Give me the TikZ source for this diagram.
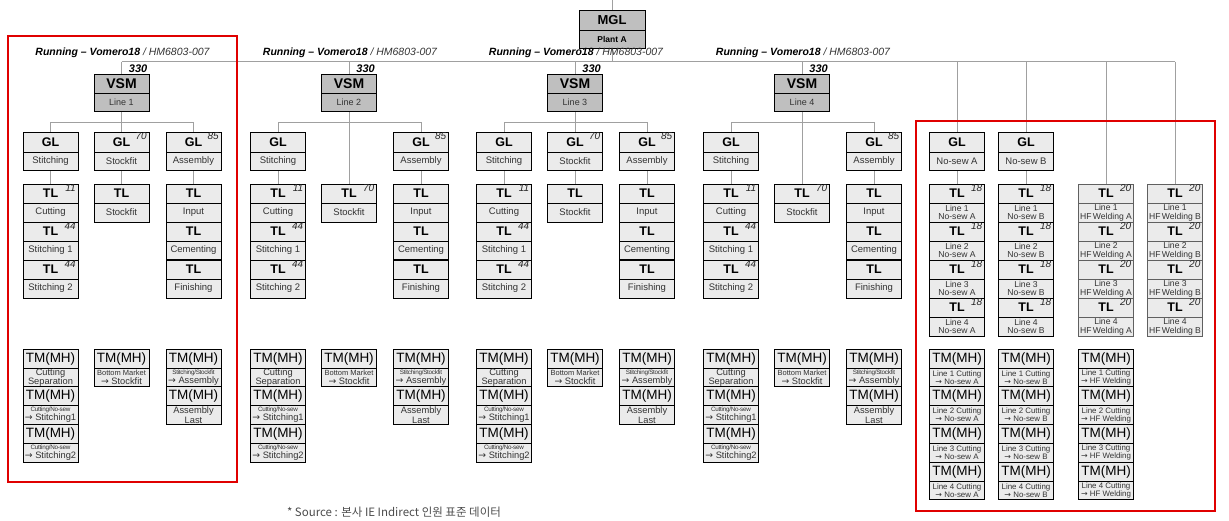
\documentclass[tikz,border=0pt]{standalone}
\usepackage{fontspec}
\setmainfont{Liberation Sans}
\newfontfamily\cjk{Noto Sans CJK KR}
\newfontfamily\arrf{DejaVu Sans}
\newcommand\ar{{\arrf\char"2192}}
\newcommand\fsz[1]{\fontsize{#1}{#1}\selectfont}
\definecolor{boxgray}{HTML}{BFBFBF}
\definecolor{lightbox}{HTML}{EBEBEB}
\definecolor{conngray}{HTML}{A0A0A0}
\definecolor{subtext}{HTML}{333333}
\definecolor{hfborder}{HTML}{606060}
\definecolor{redline}{HTML}{E00000}
\pgfdeclarelayer{bg}
\pgfsetlayers{bg,main}
% #1 name, #2 x centre, #3 top y, #4 style prefix, #5 header, #6 sub text, #7 number
\newcommand\bx[7]{%
  \node[#4hd,anchor=north] (#1h) at ({#2},{#3}) {#5};
  \node[#4sb,anchor=north] (#1) at (#1h.south) {#6};
  \node[num,anchor=north east] at ([xshift=-1.5pt,yshift=0.5pt]#1h.north east) {#7};
}
% #1 id, #2 VSM centre x, #3 1 = GL stockfit present
\newcommand\linegroup[3]{%
  \node[title] (title#1) at ({#2+1},53) {\textbf{Running -- Vomero18}\ \textcolor{subtext}{/ HM6803-007}};
  \bx{vsm#1}{#2}{74}{vsm}{VSM}{Line #1}{}
  \node[n330,anchor=south east] (n330-#1) at ([xshift=-1pt,yshift=0.5pt]vsm#1h.north east) {330};
  \bx{glA#1}{#2-71}{132}{gl}{GL}{Stitching}{}
  \bx{glC#1}{#2+72}{132}{gl}{GL}{Assembly}{85}
  \bx{tlA1-#1}{#2-71}{184}{tl}{TL}{Cutting}{11}
  \bx{tlA2-#1}{#2-71}{222}{tl}{TL}{Stitching 1}{44}
  \bx{tlA3-#1}{#2-71}{260}{tl}{TL}{Stitching 2}{44}
  \bx{tlC1-#1}{#2+72}{184}{tl}{TL}{Input}{}
  \bx{tlC2-#1}{#2+72}{222}{tl}{TL}{Cementing}{}
  \bx{tlC3-#1}{#2+72}{260}{tl}{TL}{Finishing}{}
  \draw[line width=2pt] (tlC3-#1h.north west) -- (tlC3-#1h.north east);
  \ifnum#3=1
    \bx{glB#1}{#2}{132}{gl}{GL}{Stockfit}{70}
    \bx{tlB-#1}{#2}{184}{tl}{TL}{Stockfit}{}
  \else
    \bx{tlB-#1}{#2}{184}{tl}{TL}{Stockfit}{70}
  \fi
  \bx{tmA1-#1}{#2-71}{349}{tm}{TM(MH)}{Cutting\\Separation}{}
  \bx{tmA2-#1}{#2-71}{386.7}{tm}{TM(MH)}{{\fsz{6.3}\addfontfeatures{LetterSpace=-4}Cutting/No-sew}\\[-0.5pt]\ar{} Stitching1}{}
  \bx{tmA3-#1}{#2-71}{424.4}{tm}{TM(MH)}{{\fsz{6.3}\addfontfeatures{LetterSpace=-4}Cutting/No-sew}\\[-0.5pt]\ar{} Stitching2}{}
  \bx{tmB-#1}{#2}{349}{tm}{TM(MH)}{{\fsz{7.5}Bottom Market}\\\ar{} Stockfit}{}
  \bx{tmC1-#1}{#2+72}{349}{tm}{TM(MH)}{{\fsz{6.3}\addfontfeatures{LetterSpace=-4}Stitching/Stockfit}\\[-0.5pt]\ar{} Assembly}{}
  \bx{tmC2-#1}{#2+72}{386.7}{tm}{TM(MH)}{Assembly\\Last}{}
  \coordinate (hb#1) at (#2,122);
  \begin{pgfonlayer}{bg}
    \draw[conn] (vsm#1h.north) -- (vsm#1h.north |- bus);
    \draw[conn] (glA#1h.north) -- (glA#1h.north |- hb#1) -- (glC#1h.north |- hb#1) -- (glC#1h.north);
    \ifnum#3=1
      \draw[conn] (vsm#1.south) -- (glB#1h.north);
      \draw[conn] (glB#1.south) -- (tlB-#1h.north);
    \else
      \draw[conn] (vsm#1.south) -- (tlB-#1h.north);
    \fi
    \draw[conn] (vsm#1.south) -- (hb#1);
    \draw[conn] (glA#1.south) -- (tlA1-#1h.north);
    \draw[conn] (glC#1.south) -- (tlC1-#1h.north);
  \end{pgfonlayer}
}
\begin{document}
\begin{tikzpicture}[x=1pt,y=-1pt,
  base/.style={draw=black,line width=1pt,inner sep=0pt,outer sep=0pt,minimum width=55pt,align=center},
  mglhd/.style={base,fill=boxgray,minimum width=66pt,minimum height=20pt,font=\bfseries\fsz{13}},
  mglsb/.style={base,fill=boxgray,minimum width=66pt,minimum height=18pt,font=\bfseries\fsz{8.5}},
  vsmhd/.style={base,fill=boxgray,minimum height=19.5pt,font=\bfseries\fsz{14}},
  vsmsb/.style={base,fill=boxgray,minimum height=18pt,font=\fsz{9},text=subtext},
  glhd/.style={base,fill=lightbox,minimum height=20pt,font=\bfseries\fsz{12.5}},
  glsb/.style={base,fill=lightbox,minimum height=18pt,font=\fsz{9.5},text=subtext},
  tlhd/.style={base,fill=lightbox,minimum height=19pt,font=\bfseries\fsz{12.5}},
  tlsb/.style={base,fill=lightbox,minimum height=19pt,font=\fsz{9.5},text=subtext},
  tlxhd/.style={tlhd},
  tlxsb/.style={base,fill=lightbox,minimum height=19pt,font=\fsz{8.6},text=subtext},
  hfhd/.style={tlhd,draw=hfborder},
  hfsb/.style={tlxsb,draw=hfborder,font=\fsz{8.6}},
  tmhd/.style={base,fill=lightbox,minimum height=19pt,font=\fsz{13.5}},
  tmsb/.style={base,fill=lightbox,minimum height=18.7pt,font=\fsz{9.3},text=subtext},
  tmxhd/.style={tmhd},
  tmxsb/.style={base,fill=lightbox,minimum height=18.7pt,font=\fsz{7.9},text=subtext},
  num/.style={inner sep=0.5pt,font=\itshape\fsz{10},text=black!85},
  n330/.style={inner sep=0.5pt,font=\bfseries\itshape\fsz{11}},
  title/.style={inner sep=0pt,font=\itshape\fsz{10.5}},
  conn/.style={draw=conngray,line width=1pt},
  redbox/.style={draw=redline,line width=1.1pt},
  footer/.style={inner sep=0pt,font=\cjk\fsz{11.5},text=black!70}]
\useasboundingbox (0,0) rectangle (1229,520);
\coordinate (bus) at (0,61.5);
\coordinate (top) at (612,0);
% red frames
\draw[redbox] (8,36) rectangle (237,482);
\draw[redbox] (916,121) rectangle (1215,511);
% plant
\node[mglhd,anchor=north] (mglh) at (612,10) {MGL};
\node[mglsb,anchor=north] (mgl) at (mglh.south) {Plant A};
% lines
\linegroup{1}{121.5}{1}
\linegroup{2}{349}{0}
\linegroup{3}{575}{1}
\linegroup{4}{802}{0}
% no-sew and HF welding
\bx{gna}{957}{132}{gl}{GL}{No-sew A}{}
\bx{gnb}{1026}{132}{gl}{GL}{No-sew B}{}
\foreach \i in {1,...,4}{
  \bx{tna\i}{957}{184+38*(\i-1)}{tlx}{TL}{Line \i\\No-sew A}{18}
  \bx{tnb\i}{1026}{184+38*(\i-1)}{tlx}{TL}{Line \i\\No-sew B}{18}
  \bx{hfa\i}{1106}{184+38*(\i-1)}{hf}{TL}{Line \i\\HF\,Welding A}{20}
  \bx{hfb\i}{1175}{184+38*(\i-1)}{hf}{TL}{Line \i\\HF\,Welding B}{20}
  \bx{tma\i}{957}{349+37.75*(\i-1)}{tmx}{TM(MH)}{Line \i\ Cutting\\\ar{} No-sew A}{}
  \bx{tmb\i}{1026}{349+37.75*(\i-1)}{tmx}{TM(MH)}{Line \i\ Cutting\\\ar{} No-sew B}{}
  \bx{tmh\i}{1106}{349+37.75*(\i-1)}{tmx}{TM(MH)}{Line \i\ Cutting\\\ar{} HF Welding}{}
}
\begin{pgfonlayer}{bg}
  \draw[conn] (top) -- (mglh.north);
  \draw[conn] (mgl.south) -- (mgl.south |- bus);
  \draw[conn] (vsm1h.north |- bus) -- (hfb1h.north |- bus);
  \draw[conn] (gnah.north |- bus) -- (gnah.north);
  \draw[conn] (gnbh.north |- bus) -- (gnbh.north);
  \draw[conn] (hfa1h.north |- bus) -- (hfa1h.north);
  \draw[conn] (hfb1h.north |- bus) -- (hfb1h.north);
  \draw[conn] (gna.south) -- (tna1h.north);
  \draw[conn] (gnb.south) -- (tnb1h.north);
\end{pgfonlayer}
% footer
\node[footer] (src) at (394,512) {* Source : 본사 IE Indirect 인원 표준 데이터};
\end{tikzpicture}
\end{document}
